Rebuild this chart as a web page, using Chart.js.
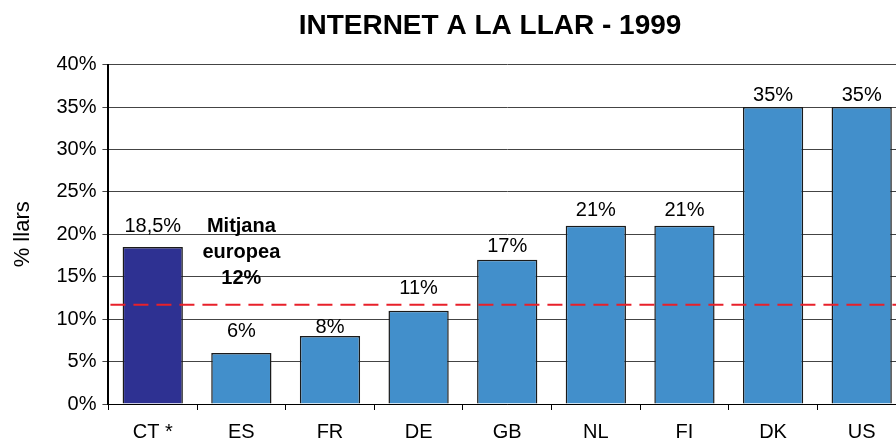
<!DOCTYPE html>
<html>
<head>
<meta charset="utf-8">
<script src="https://cdn.jsdelivr.net/npm/chart.js@4/dist/chart.umd.min.js"></script>
<style>
  html, body { margin: 0; padding: 0; background: #fff; overflow: hidden; }
  #wrap { width: 970px; height: 441px; }
</style>
</head>
<body>
<div id="wrap"><canvas id="myChart"></canvas></div>
<script>
'use strict';

// data
const countries = ['CT *', 'ES', 'FR', 'DE', 'GB', 'NL', 'FI', 'DK', 'US'];
const homeShare = [18.5, 6, 8, 11, 17, 21, 21, 35, 35];
const shareLabels = ['18,5%', '6%', '8%', '11%', '17%', '21%', '21%', '35%', '35%'];
const euroAverage = 11.7;
const averageNote = ['Mitjana', 'europea', '12%'];
const yTicks = [0, 5, 10, 15, 20, 25, 30, 35, 40];

const darkBlue = '#2e3192';
const lightBlue = '#428fcb';
const barColors = countries.map((c, i) => i === 0 ? darkBlue : lightBlue);
const fontFam = '"Liberation Sans", Arial, sans-serif';

// labels above the bars + red average line + note
const extras = {
  id: 'extras',
  // how far (px) each value label sits above its bar, as hand placed in the original
  labelLift: [21, 22, 9, 22, 13, 15, 15, 12, 12],
  afterDatasetsDraw(chart) {
    const ctx = chart.ctx;
    const xs = chart.scales.x;
    const ys = chart.scales.y;
    const area = chart.chartArea;

    // average dashed line
    const yAvg = ys.getPixelForValue(euroAverage);
    ctx.save();
    ctx.strokeStyle = '#e8202a';
    ctx.lineWidth = 2;
    ctx.setLineDash([15, 8]);
    ctx.beginPath();
    ctx.moveTo(area.left + 2, yAvg);
    ctx.lineTo(area.right, yAvg);
    ctx.stroke();
    ctx.restore();

    // value labels
    ctx.save();
    ctx.fillStyle = '#000';
    ctx.font = '20px ' + fontFam;
    ctx.textAlign = 'center';
    ctx.textBaseline = 'middle';
    const meta = chart.getDatasetMeta(0);
    meta.data.forEach((bar, i) => {
      ctx.fillText(shareLabels[i], bar.x, bar.y - this.labelLift[i]);
    });
    ctx.restore();

    // average note
    ctx.save();
    ctx.fillStyle = '#000';
    ctx.font = 'bold 20px ' + fontFam;
    ctx.textAlign = 'center';
    ctx.textBaseline = 'middle';
    const noteX = xs.getPixelForValue(1);
    const noteY = ys.getPixelForValue(20.9);
    averageNote.forEach((line, i) => {
      ctx.fillText(line, noteX, noteY + i * 26);
    });
    ctx.restore();
  }
};

const config = {
  type: 'bar',
  data: {
    labels: countries,
    datasets: [{
      data: homeShare,
      backgroundColor: barColors,
      borderColor: '#1a1a1a',
      borderWidth: 1.5,
      barPercentage: 0.68,
      categoryPercentage: 1
    }]
  },
  options: {
    responsive: false,
    animation: false,
    devicePixelRatio: 1,
    layout: { padding: { left: 10, right: 0, top: 0, bottom: -13 } },
    plugins: {
      legend: { display: false },
      tooltip: { enabled: false },
      title: {
        display: true,
        text: 'INTERNET A LA LLAR - 1999',
        color: '#000',
        font: { family: fontFam, size: 28, weight: 'bold' },
        padding: { top: 9, bottom: 22 }
      }
    },
    scales: {
      x: {
        offset: true,
        grid: {
          display: true,
          offset: true,
          drawOnChartArea: false,
          drawTicks: true,
          tickLength: 6,
          color: '#000'
        },
        border: { color: '#000', width: 1 },
        ticks: {
          color: '#000',
          padding: 12,
          font: { family: fontFam, size: 20, lineHeight: 1 }
        }
      },
      y: {
        min: 0,
        max: 40,
        afterBuildTicks(axis) {
          axis.ticks = yTicks.map(v => ({ value: v }));
        },
        grid: {
          color: '#444',
          lineWidth: 1,
          tickLength: 6,
          drawTicks: true
        },
        border: { color: '#000', width: 2 },
        ticks: {
          color: '#000',
          padding: 6,
          font: { family: fontFam, size: 20 },
          callback: v => v + '%'
        },
        title: {
          display: true,
          text: '% llars',
          color: '#000',
          padding: { top: 0, bottom: 14 },
          font: { family: fontFam, size: 22 }
        }
      },
      // empty strip on the right (cut off in the original picture)
      rightPad: {
        position: 'right',
        min: 0,
        max: 40,
        grid: { display: false },
        border: { display: false },
        ticks: { display: false },
        afterFit(axis) { axis.width = 64; }
      }
    }
  },
  plugins: [extras]
};

const canvas = document.getElementById('myChart');
canvas.width = 970;
canvas.height = 441;
const myChart = new Chart(canvas, config);
</script>
</body>
</html>
